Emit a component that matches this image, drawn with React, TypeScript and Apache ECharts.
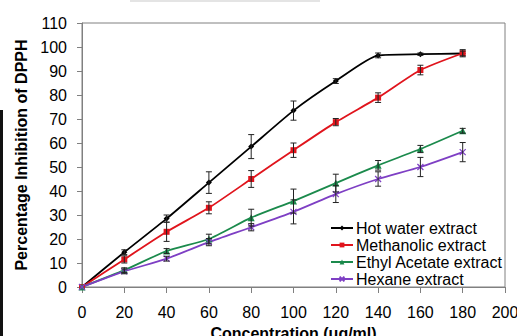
import React, { useEffect, useRef } from "react";
import * as echarts from "echarts";

const concentrations = [0, 20, 40, 60, 80, 100, 120, 140, 160, 180];
const hotWater = [0, 14.5, 28.5, 43.5, 58.5, 73.5, 85.8, 96.5, 97, 97.3];
const hotWaterErr = [0, 1, 1.5, 4.5, 5, 4, 1, 1, 0.5, 1];
const methanolic = [0, 11.5, 23, 33, 45, 57, 68.7, 78.9, 90.4, 97.4];
const methanolicErr = [0, 1.5, 4, 2.5, 3.5, 3, 1.5, 2, 2, 1.5];
const ethyl = [0, 7, 15, 20, 28.9, 35.8, 43.3, 50.7, 57.5, 65.1];
const ethylErr = [0, 1, 1, 2, 3.5, 5, 3.7, 2, 1.5, 1];
const hexane = [0, 6.5, 11.8, 18.7, 24.9, 31.3, 38.7, 45, 50, 56.2];
const hexaneErr = [0, 1, 1, 1.5, 1.5, 5, 3.5, 3, 4, 4];

const seriesNames = ["Hot water extract", "Methanolic extract", "Ethyl Acetate extract", "Hexane extract"];
const seriesColors = ["#000000", "#e0141c", "#1b8a4c", "#7e3fc4"];
const seriesValues = [hotWater, methanolic, ethyl, hexane];
const seriesErrors = [hotWaterErr, methanolicErr, ethylErr, hexaneErr];
const seriesSymbols = ["diamond", "rect", "triangle", "path://M0,0L10,10M10,0L0,10"];
const seriesSymbolSizes = [6, 6, 7, 6];

const FONT = "Liberation Sans, Arial, sans-serif";

export default function App() {
  const ref = useRef<HTMLDivElement>(null);
  useEffect(() => {
    if (!ref.current) return;
    const chart = echarts.init(ref.current, null, { renderer: "svg" });
    const lineSeries = seriesNames.map((name, i) => ({
      name,
      type: "line",
      smooth: 0.2,
      data: concentrations.map((c, j) => [c, seriesValues[i][j]]),
      symbol: seriesSymbols[i],
      symbolSize: seriesSymbolSizes[i],
      showSymbol: true,
      lineStyle: { color: seriesColors[i], width: 1.8 },
      itemStyle: {
        color: seriesColors[i],
        borderColor: seriesColors[i],
        borderWidth: i === 3 ? 1.2 : 0,
      },
      z: 2,
    }));
    const errSeries = seriesNames.map((name, i) => ({
      name: name + " err",
      type: "custom",
      data: concentrations
        .map((c, j) => [c, seriesValues[i][j] - seriesErrors[i][j], seriesValues[i][j] + seriesErrors[i][j]])
        .filter((d, j) => seriesErrors[i][j] > 0),
      renderItem: (params: any, api: any) => {
        const x = api.value(0);
        const lo = api.coord([x, api.value(1)]);
        const hi = api.coord([x, api.value(2)]);
        const w = 3;
        const style = { stroke: "#222", lineWidth: 1 };
        return {
          type: "group",
          children: [
            { type: "line", shape: { x1: lo[0], y1: lo[1], x2: hi[0], y2: hi[1] }, style },
            { type: "line", shape: { x1: lo[0] - w, y1: lo[1], x2: lo[0] + w, y2: lo[1] }, style },
            { type: "line", shape: { x1: hi[0] - w, y1: hi[1], x2: hi[0] + w, y2: hi[1] }, style },
          ],
        };
      },
      z: 3,
      silent: true,
    }));
    chart.setOption({
      animation: false,
      backgroundColor: "#ffffff",
      textStyle: { fontFamily: FONT },
      graphic: [
        {
          type: "rect",
          shape: { x: 0, y: 110, width: 3, height: 226 },
          style: { fill: "#111" },
          silent: true,
        },
        {
          type: "rect",
          shape: { x: 130, y: 0, width: 190, height: 2 },
          style: { fill: "#e4e4e4" },
          silent: true,
        },
      ],
      grid: {
        left: 82,
        right: 12,
        top: 23,
        bottom: 49,
        show: true,
        borderColor: "#808080",
        borderWidth: 1,
        outerBoundsMode: "none",
        containLabel: false,
      },
      legend: {
        data: seriesNames,
        orient: "vertical",
        left: 325,
        top: 215,
        itemWidth: 22,
        itemHeight: 6,
        itemGap: 1,
        textStyle: { fontSize: 16, color: "#000", fontFamily: FONT, lineHeight: 16, padding: [0, 0, 0, -2] },
      },
      xAxis: {
        type: "value",
        min: 0,
        max: 200,
        interval: 20,
        name: "Concentration (ug/ml)",
        nameLocation: "middle",
        nameGap: 38,
        nameTextStyle: { fontSize: 16, fontWeight: "bold", color: "#000", fontFamily: FONT },
        axisLine: { show: true, lineStyle: { color: "#808080" } },
        axisTick: { show: true, length: 6, lineStyle: { color: "#808080" } },
        axisLabel: { fontSize: 16, color: "#000", margin: 17, fontFamily: FONT },
        splitLine: { show: false },
      },
      yAxis: {
        type: "value",
        min: 0,
        max: 110,
        interval: 10,
        name: "Percentage Inhibition of DPPH",
        nameLocation: "middle",
        nameGap: 45,
        nameTextStyle: { fontSize: 16, fontWeight: "bold", color: "#000", fontFamily: FONT },
        axisLine: { show: true, lineStyle: { color: "#808080" } },
        axisTick: { show: true, length: 5, lineStyle: { color: "#808080" } },
        axisLabel: { fontSize: 16, color: "#000", margin: 15, fontFamily: FONT },
        splitLine: { show: false },
      },
      series: [...lineSeries, ...errSeries],
    });
    return () => chart.dispose();
  }, []);
  return (
    <div
      ref={ref}
      style={{ position: "absolute", left: 0, top: 0, width: 517, height: 336 }}
    />
  );
}
